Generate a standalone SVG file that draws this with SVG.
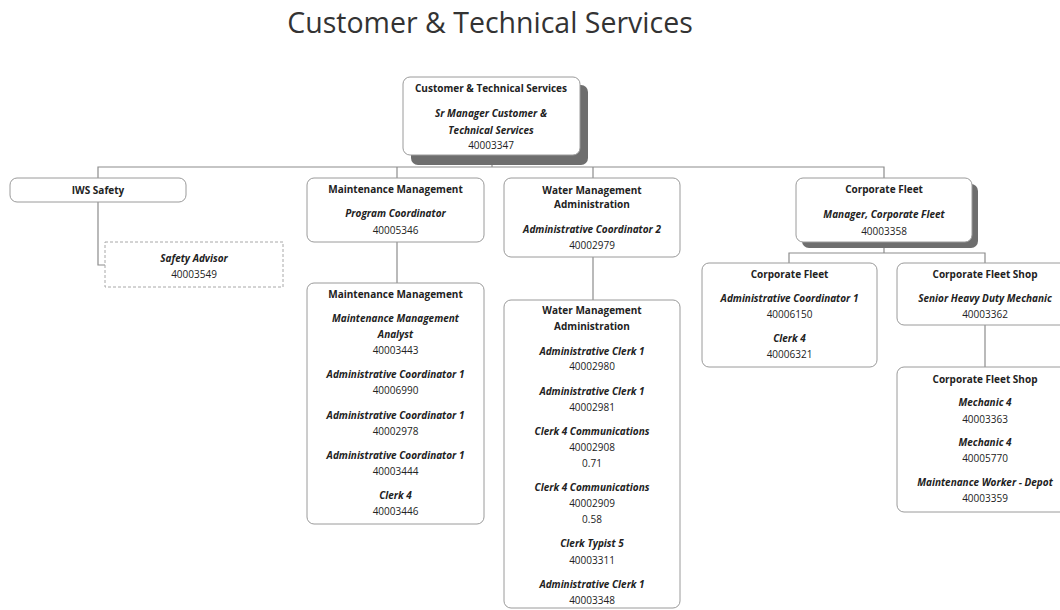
<svg xmlns="http://www.w3.org/2000/svg" width="1060" height="610" viewBox="0 0 1060 610">
  <style>
    .box { fill: #ffffff; stroke: #9a9a9a; stroke-width: 1; }
    .dash { fill: #ffffff; stroke: #a8a8a8; stroke-width: 1; stroke-dasharray: 3 2; }
    .shadow { fill: #6e6e6e; }
    .link { fill: none; stroke: #8c8c8c; stroke-width: 1.2; }
    text { font-family: "Open Sans", "Liberation Sans", sans-serif; font-size: 10px; fill: #222222; text-anchor: middle; }
    .hd { font-weight: bold; }
    .job { font-weight: bold; font-style: italic; }
    .num { font-weight: normal; }
    .title { font-size: 28.5px; fill: #333333; font-weight: normal; }
  </style>

  <rect width="1060" height="610" fill="#ffffff"/>

  <text class="title" x="490" y="33">Customer &amp; Technical Services</text>

  <g id="connectors">
    <path class="link" d="M492 155 V167"/>
    <path class="link" d="M98 178 V167 H884 V178"/>
    <path class="link" d="M397 167 V178"/>
    <path class="link" d="M593 167 V178"/>
    <path class="link" d="M98 202 V265 H105"/>
    <path class="link" d="M397 242 V283"/>
    <path class="link" d="M593 257 V300"/>
    <path class="link" d="M884 242 V253 M789 263 V253 H985 V263"/>
    <path class="link" d="M985 325 V367"/>
  </g>

  <g id="node-root">
    <rect class="shadow" x="411" y="85" width="177" height="80" rx="7"/>
    <rect class="box" x="403" y="77" width="177" height="78" rx="7"/>
    <text class="hd" x="491" y="92">Customer &amp; Technical Services</text>
    <text class="job" x="491" y="117">Sr Manager Customer &amp;</text>
    <text class="job" x="491" y="134">Technical Services</text>
    <text class="num" x="491" y="149">40003347</text>
  </g>

  <g id="node-iws">
    <rect class="box" x="10" y="178" width="176" height="24" rx="7"/>
    <text class="hd" x="98" y="194">IWS Safety</text>
  </g>

  <g id="node-safety-advisor">
    <rect class="dash" x="105" y="242" width="178" height="45"/>
    <text class="job" x="194" y="262">Safety Advisor</text>
    <text class="num" x="194" y="278">40003549</text>
  </g>

  <g id="node-maint">
    <rect class="box" x="307" y="178" width="177" height="64" rx="7"/>
    <text class="hd" x="395.5" y="193">Maintenance Management</text>
    <text class="job" x="395.5" y="217">Program Coordinator</text>
    <text class="num" x="395.5" y="234">40005346</text>
  </g>

  <g id="node-maint-staff">
    <rect class="box" x="307" y="283" width="177" height="241" rx="7"/>
    <text class="hd" x="395.5" y="298">Maintenance Management</text>
    <text class="job" x="395.5" y="322">Maintenance Management</text>
    <text class="job" x="395.5" y="338">Analyst</text>
    <text class="num" x="395.5" y="354">40003443</text>
    <text class="job" x="395.5" y="378">Administrative Coordinator 1</text>
    <text class="num" x="395.5" y="394">40006990</text>
    <text class="job" x="395.5" y="419">Administrative Coordinator 1</text>
    <text class="num" x="395.5" y="435">40002978</text>
    <text class="job" x="395.5" y="459">Administrative Coordinator 1</text>
    <text class="num" x="395.5" y="475">40003444</text>
    <text class="job" x="395.5" y="499">Clerk 4</text>
    <text class="num" x="395.5" y="515">40003446</text>
  </g>

  <g id="node-water">
    <rect class="box" x="504" y="178" width="176" height="79" rx="7"/>
    <text class="hd" x="592" y="194">Water Management</text>
    <text class="hd" x="592" y="208">Administration</text>
    <text class="job" x="592" y="233">Administrative Coordinator 2</text>
    <text class="num" x="592" y="249">40002979</text>
  </g>

  <g id="node-water-staff">
    <rect class="box" x="504" y="300" width="176" height="308" rx="7"/>
    <text class="hd" x="592" y="314">Water Management</text>
    <text class="hd" x="592" y="330">Administration</text>
    <text class="job" x="592" y="355">Administrative Clerk 1</text>
    <text class="num" x="592" y="370">40002980</text>
    <text class="job" x="592" y="395">Administrative Clerk 1</text>
    <text class="num" x="592" y="411">40002981</text>
    <text class="job" x="592" y="435">Clerk 4 Communications</text>
    <text class="num" x="592" y="451">40002908</text>
    <text class="num" x="592" y="467">0.71</text>
    <text class="job" x="592" y="491">Clerk 4 Communications</text>
    <text class="num" x="592" y="507">40002909</text>
    <text class="num" x="592" y="523">0.58</text>
    <text class="job" x="592" y="547">Clerk Typist 5</text>
    <text class="num" x="592" y="564">40003311</text>
    <text class="job" x="592" y="588">Administrative Clerk 1</text>
    <text class="num" x="592" y="604">40003348</text>
  </g>

  <g id="node-fleet">
    <rect class="shadow" x="802" y="184" width="176" height="64" rx="7"/>
    <rect class="box" x="796" y="178" width="176" height="64" rx="7"/>
    <text class="hd" x="884" y="193">Corporate Fleet</text>
    <text class="job" x="884" y="218">Manager, Corporate Fleet</text>
    <text class="num" x="884" y="235">40003358</text>
  </g>

  <g id="node-fleet-staff">
    <rect class="box" x="702" y="263" width="175" height="104" rx="7"/>
    <text class="hd" x="789.5" y="278">Corporate Fleet</text>
    <text class="job" x="789.5" y="302">Administrative Coordinator 1</text>
    <text class="num" x="789.5" y="318">40006150</text>
    <text class="job" x="789.5" y="342">Clerk 4</text>
    <text class="num" x="789.5" y="358">40006321</text>
  </g>

  <g id="node-fleet-shop">
    <rect class="box" x="897" y="263" width="176" height="62" rx="7"/>
    <text class="hd" x="985" y="278">Corporate Fleet Shop</text>
    <text class="job" x="985" y="302">Senior Heavy Duty Mechanic</text>
    <text class="num" x="985" y="318">40003362</text>
  </g>

  <g id="node-fleet-shop-staff">
    <rect class="box" x="897" y="367" width="176" height="145" rx="7"/>
    <text class="hd" x="985" y="383">Corporate Fleet Shop</text>
    <text class="job" x="985" y="406">Mechanic 4</text>
    <text class="num" x="985" y="423">40003363</text>
    <text class="job" x="985" y="446">Mechanic 4</text>
    <text class="num" x="985" y="462">40005770</text>
    <text class="job" x="985" y="486">Maintenance Worker - Depot</text>
    <text class="num" x="985" y="502">40003359</text>
  </g>
</svg>
